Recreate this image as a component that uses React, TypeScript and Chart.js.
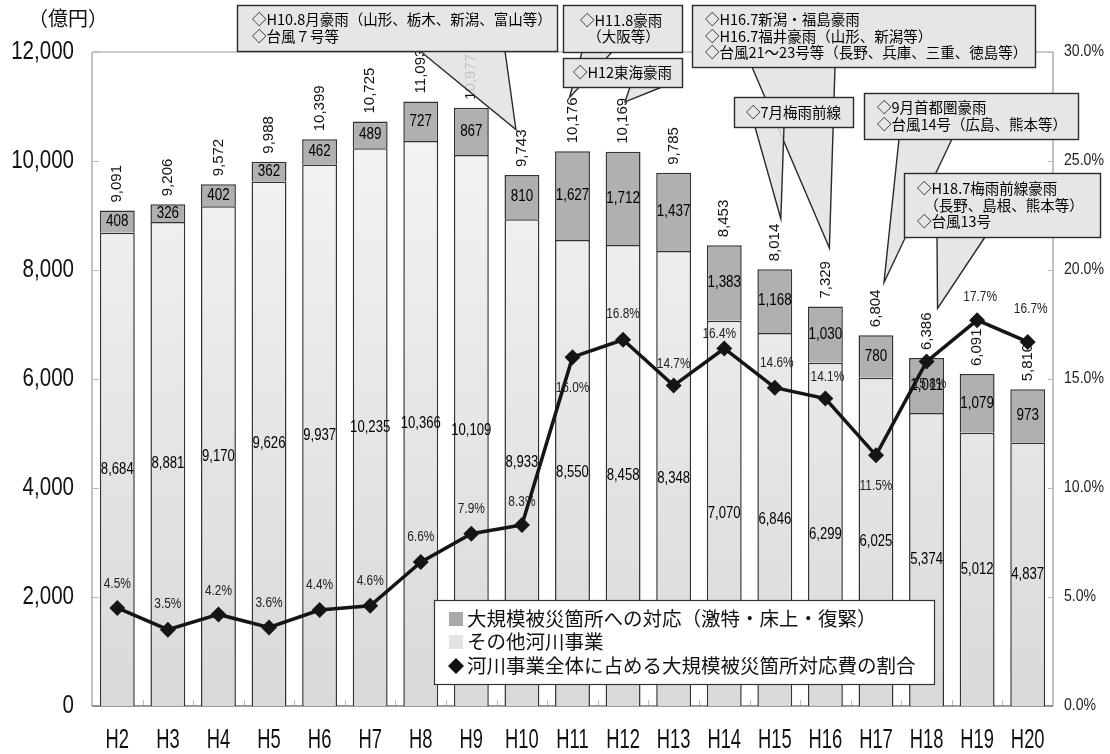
import { useEffect, useRef } from 'react';
import { Chart, registerables } from 'chart.js';

Chart.register(...registerables);

// 年度
const fiscalYears = ['H2', 'H3', 'H4', 'H5', 'H6', 'H7', 'H8', 'H9', 'H10', 'H11', 'H12', 'H13', 'H14', 'H15', 'H16', 'H17', 'H18', 'H19', 'H20'];
// その他河川事業（億円）
const otherRiver = [8684, 8881, 9170, 9626, 9937, 10235, 10366, 10109, 8933, 8550, 8458, 8348, 7070, 6846, 6299, 6025, 5374, 5012, 4837];
// 大規模被災箇所への対応（億円）
const largeDisaster = [408, 326, 402, 362, 462, 489, 727, 867, 810, 1627, 1712, 1437, 1383, 1168, 1030, 780, 1011, 1079, 973];
// 河川事業合計（億円）
const totals = [9091, 9206, 9572, 9988, 10399, 10725, 11093, 10977, 9743, 10176, 10169, 9785, 8453, 8014, 7329, 6804, 6386, 6091, 5810];
// 大規模被災箇所対応費の割合（%）
const shareRatio = [4.5, 3.5, 4.2, 3.6, 4.4, 4.6, 6.6, 7.9, 8.3, 16.0, 16.8, 14.7, 16.4, 14.6, 14.1, 11.5, 15.8, 17.7, 16.7];
// 軸目盛
const amountTicks = [0, 2000, 4000, 6000, 8000, 10000, 12000];
const ratioTicks = [0, 5, 10, 15, 20, 25, 30];

const legendLabels = [
  '大規模被災箇所への対応（激特・床上・復緊）',
  'その他河川事業',
  '河川事業全体に占める大規模被災箇所対応費の割合',
];

// 割合ラベルの位置ずらし [dx, dy]
const ratioLabelShift: [number, number][] = [
  [0, -24], [0, -26], [0, -23], [0, -25], [0, -25], [0, -25], [0, -25], [0, -25], [0, -23],
  [0, 31], [0, -26], [0, -22], [-5, -14], [2, -25], [2, -22], [0, 31], [3, 22], [3, -23], [3, -33],
];

type Callout = {
  lines: string[];
  box: [number, number, number, number];
  pad: number;
  center?: boolean;
  base: [number, number];
  target: number;
  tip: [number, number];
};

// 主な災害の吹き出し
const callouts: Callout[] = [
  { lines: ['◇H10.8月豪雨（山形、栃木、新潟、富山等）', '◇台風７号等'], box: [237, 5, 320, 46], pad: 15, base: [420, 505], target: 8, tip: [-6, 0] },
  { lines: ['◇H11.8豪雨', '　（大阪等）'], box: [563, 5, 119, 47], pad: 17, base: [582, 612], target: 9, tip: [-3, 0] },
  { lines: ['◇H12東海豪雨'], box: [563, 58, 119, 29], pad: 0, center: true, base: [630, 662], target: 10, tip: [2, 4] },
  { lines: ['◇H16.7新潟・福島豪雨', '◇H16.7福井豪雨（山形、新潟等）', '◇台風21～23号等（長野、兵庫、三重、徳島等）'], box: [692, 5, 343, 62], pad: 13, base: [752, 835], target: 14, tip: [4, -13] },
  { lines: ['◇7月梅雨前線'], box: [734, 97, 119, 30], pad: 0, center: true, base: [755, 784], target: 13, tip: [6, -5] },
  { lines: ['◇9月首都圏豪雨', '◇台風14号（広島、熊本等）'], box: [864, 93, 214, 46], pad: 13, base: [899, 952], target: 15, tip: [8, -7] },
  { lines: ['◇H18.7梅雨前線豪雨', '　（長野、島根、熊本等）', '◇台風13号'], box: [904, 173, 196, 64], pad: 13, base: [937, 985], target: 16, tip: [11, -4] },
];

const LAT = "'Liberation Sans', Arial, sans-serif";
const JP = "'Noto Sans CJK JP', 'Noto Sans CJK SC', sans-serif";
const fmt = (v: number) => v.toLocaleString('en-US');

function text(
  ctx: CanvasRenderingContext2D,
  s: string,
  x: number,
  y: number,
  size: number,
  o: { sx?: number; align?: CanvasTextAlign; family?: string; color?: string; weight?: string } = {}
) {
  ctx.save();
  ctx.font = `${o.weight || 'normal'} ${size}px ${o.family || LAT}`;
  ctx.fillStyle = o.color || '#111';
  ctx.textAlign = o.align || 'center';
  ctx.textBaseline = 'middle';
  ctx.translate(x, y);
  ctx.scale(o.sx || 1, 1);
  ctx.fillText(s, 0, 0);
  ctx.restore();
}

const TOTAL_FONT = 15;
const TOTAL_GAP = 8;

function totalLabelTop(chart: any, i: number) {
  const ctx: CanvasRenderingContext2D = chart.ctx;
  const bar = chart.getDatasetMeta(1).data[i];
  ctx.save();
  ctx.font = `${TOTAL_FONT}px ${LAT}`;
  const w = ctx.measureText(fmt(totals[i])).width;
  ctx.restore();
  return bar.y - TOTAL_GAP - w;
}

const decor = {
  id: 'decor',
  beforeDatasetsDraw(chart: any) {
    const ctx: CanvasRenderingContext2D = chart.ctx;
    const { left, right, top, bottom } = chart.chartArea;
    const ys = chart.scales.y;
    const yr = chart.scales.y1;
    ctx.save();
    ctx.strokeStyle = '#9a9a9a';
    ctx.lineWidth = 1.2;
    ctx.beginPath();
    ctx.moveTo(left, top);
    ctx.lineTo(right, top);
    ctx.moveTo(left, top);
    ctx.lineTo(left, bottom);
    ctx.moveTo(right, top);
    ctx.lineTo(right, bottom);
    ctx.stroke();
    ctx.strokeStyle = '#b8b8b8';
    ctx.lineWidth = 1;
    ctx.beginPath();
    amountTicks.forEach((v) => {
      const y = Math.round(ys.getPixelForValue(v)) + 0.5;
      ctx.moveTo(left, y);
      ctx.lineTo(left + 7, y);
    });
    ratioTicks.forEach((v) => {
      const y = Math.round(yr.getPixelForValue(v)) + 0.5;
      ctx.moveTo(right - 5, y);
      ctx.lineTo(right, y);
    });
    const n = fiscalYears.length;
    const cw = (right - left) / n;
    for (let k = 1; k < n; k++) {
      const x = Math.round(left + k * cw) + 0.5;
      ctx.moveTo(x, bottom);
      ctx.lineTo(x, bottom - 6);
    }
    ctx.stroke();
    ctx.strokeStyle = '#7a7a7a';
    ctx.lineWidth = 1.5;
    ctx.beginPath();
    ctx.moveTo(left, bottom);
    ctx.lineTo(right, bottom);
    ctx.stroke();
    ctx.restore();
  },
  beforeDatasetDraw(chart: any, args: any) {
    if (args.index !== 2) return;
    const ctx: CanvasRenderingContext2D = chart.ctx;
    const lower = chart.getDatasetMeta(0).data;
    const upper = chart.getDatasetMeta(1).data;
    fiscalYears.forEach((_, i) => {
      const lo = lower[i];
      const up = upper[i];
      text(ctx, fmt(otherRiver[i]), lo.x, (lo.y + lo.base) / 2, 16, { sx: 0.82, color: '#000' });
      text(ctx, fmt(largeDisaster[i]), up.x, (up.y + up.base) / 2, 16, { sx: 0.84, color: '#000' });
      ctx.save();
      ctx.font = `${TOTAL_FONT}px ${LAT}`;
      ctx.fillStyle = '#111';
      ctx.textAlign = 'left';
      ctx.textBaseline = 'middle';
      ctx.translate(up.x, up.y - TOTAL_GAP);
      ctx.rotate(-Math.PI / 2);
      ctx.fillText(fmt(totals[i]), 0, 0);
      ctx.restore();
    });
  },
  afterDatasetsDraw(chart: any) {
    const ctx: CanvasRenderingContext2D = chart.ctx;
    const pts = chart.getDatasetMeta(2).data;
    pts.forEach((p: any, i: number) => {
      const [dx, dy] = ratioLabelShift[i];
      text(ctx, shareRatio[i].toFixed(1) + '%', p.x + dx, p.y + dy, 14.5, { sx: 0.82, color: '#222' });
    });
  },
  afterDraw(chart: any) {
    const ctx: CanvasRenderingContext2D = chart.ctx;
    const { left, right, bottom } = chart.chartArea;
    const xs = chart.scales.x;
    const ys = chart.scales.y;
    const yr = chart.scales.y1;

    // 軸ラベル
    amountTicks.forEach((v) => {
      text(ctx, fmt(v), left - 18, ys.getPixelForValue(v), 26, { sx: 0.79, align: 'right', color: '#111' });
    });
    ratioTicks.forEach((v) => {
      text(ctx, v.toFixed(1) + '%', right + 11, yr.getPixelForValue(v), 16, { sx: 0.88, align: 'left', color: '#222' });
    });
    fiscalYears.forEach((lab, i) => {
      text(ctx, lab, xs.getPixelForValue(i), bottom + 35, 27, { sx: 0.68, color: '#111' });
    });
    text(ctx, '（億円）', 28, 18, 20, { align: 'left', family: JP, color: '#111' });

    // 吹き出し
    callouts.forEach((c) => {
      const [bx, by, bw, bh] = c.box;
      const bb = by + bh;
      const tx = xs.getPixelForValue(c.target) + c.tip[0];
      const ty = totalLabelTop(chart, c.target) + c.tip[1];
      ctx.save();
      ctx.lineWidth = 1.4;
      ctx.strokeStyle = '#2a2a2a';
      ctx.beginPath();
      ctx.moveTo(c.base[0], bb);
      ctx.lineTo(tx, ty);
      ctx.lineTo(c.base[1], bb);
      ctx.closePath();
      ctx.fillStyle = 'rgba(226,226,226,0.85)';
      ctx.fill();
      ctx.beginPath();
      ctx.moveTo(c.base[0], bb);
      ctx.lineTo(tx, ty);
      ctx.lineTo(c.base[1], bb);
      ctx.stroke();
      ctx.fillStyle = '#e6e6e6';
      ctx.fillRect(bx, by, bw, bh);
      ctx.strokeRect(bx + 0.5, by + 0.5, bw, bh);
      ctx.restore();
      const lh = 16.5;
      const y0 = by + bh / 2 - ((c.lines.length - 1) * lh) / 2;
      c.lines.forEach((ln, k) => {
        if (c.center) {
          text(ctx, ln, bx + bw / 2, y0 + k * lh, 14.5, { family: JP, color: '#000' });
        } else {
          text(ctx, ln, bx + c.pad, y0 + k * lh, 14.5, { family: JP, color: '#000', align: 'left' });
        }
      });
    });

    // 凡例
    const lx = 434;
    const ly = 600;
    const lw = 500;
    const lhgt = 84;
    ctx.save();
    ctx.fillStyle = '#ffffff';
    ctx.fillRect(lx, ly, lw, lhgt);
    ctx.strokeStyle = '#333';
    ctx.lineWidth = 1.2;
    ctx.strokeRect(lx + 0.5, ly + 0.5, lw, lhgt);
    const rows = [ly + 19, ly + 42, ly + 66];
    ctx.fillStyle = '#a9a9a9';
    ctx.fillRect(lx + 15, rows[0] - 7, 14, 14);
    ctx.fillStyle = '#e4e4e4';
    ctx.fillRect(lx + 15, rows[1] - 7, 14, 14);
    ctx.fillStyle = '#111';
    ctx.beginPath();
    ctx.moveTo(lx + 22, rows[2] - 8);
    ctx.lineTo(lx + 30, rows[2]);
    ctx.lineTo(lx + 22, rows[2] + 8);
    ctx.lineTo(lx + 14, rows[2]);
    ctx.closePath();
    ctx.fill();
    ctx.restore();
    legendLabels.forEach((s, k) => {
      text(ctx, s, lx + 33, rows[k], 19.5, { family: JP, align: 'left', color: '#111' });
    });
  },
};

export default function App() {
  const ref = useRef<HTMLCanvasElement | null>(null);

  useEffect(() => {
    document.body.style.margin = '0';
    if (!ref.current) return;
    const chart = new Chart(ref.current, {
      type: 'bar',
      data: {
        labels: fiscalYears,
        datasets: [
          {
            label: legendLabels[1],
            data: otherRiver,
            order: 1,
            stack: 'amount',
            yAxisID: 'y',
            backgroundColor: (c: any) => {
              const ca = c.chart.chartArea;
              if (!ca) return '#ececec';
              const g = c.chart.ctx.createLinearGradient(0, ca.top, 0, ca.bottom);
              g.addColorStop(0, '#f7f7f7');
              g.addColorStop(1, '#d9d9d9');
              return g;
            },
            borderColor: '#333',
            borderWidth: 1.5,
            barPercentage: 0.69,
            categoryPercentage: 1,
          },
          {
            label: legendLabels[0],
            data: largeDisaster,
            order: 1,
            stack: 'amount',
            yAxisID: 'y',
            backgroundColor: '#b0b0b0',
            borderColor: '#333',
            borderWidth: 1.5,
            barPercentage: 0.69,
            categoryPercentage: 1,
          },
          {
            type: 'line',
            label: legendLabels[2],
            data: shareRatio,
            order: 0,
            yAxisID: 'y1',
            borderColor: '#151515',
            backgroundColor: '#151515',
            borderWidth: 3.5,
            pointStyle: 'rectRot',
            pointRadius: 8,
            pointBorderWidth: 0,
            tension: 0,
          } as any,
        ],
      },
      options: {
        responsive: false,
        animation: false,
        events: [],
        devicePixelRatio: 1,
        layout: { padding: { left: 92, right: 57, top: 52, bottom: 48 } },
        plugins: { legend: { display: false }, tooltip: { enabled: false }, title: { display: false } },
        scales: {
          x: { display: false, stacked: true },
          y: { display: false, stacked: true, min: 0, max: 12000 },
          y1: { display: false, position: 'right', min: 0, max: 30 },
        },
      },
      plugins: [decor],
    });
    return () => chart.destroy();
  }, []);

  return (
    <div style={{ width: 1110, height: 754, background: '#fff' }}>
      <canvas ref={ref} width={1110} height={754} />
    </div>
  );
}
